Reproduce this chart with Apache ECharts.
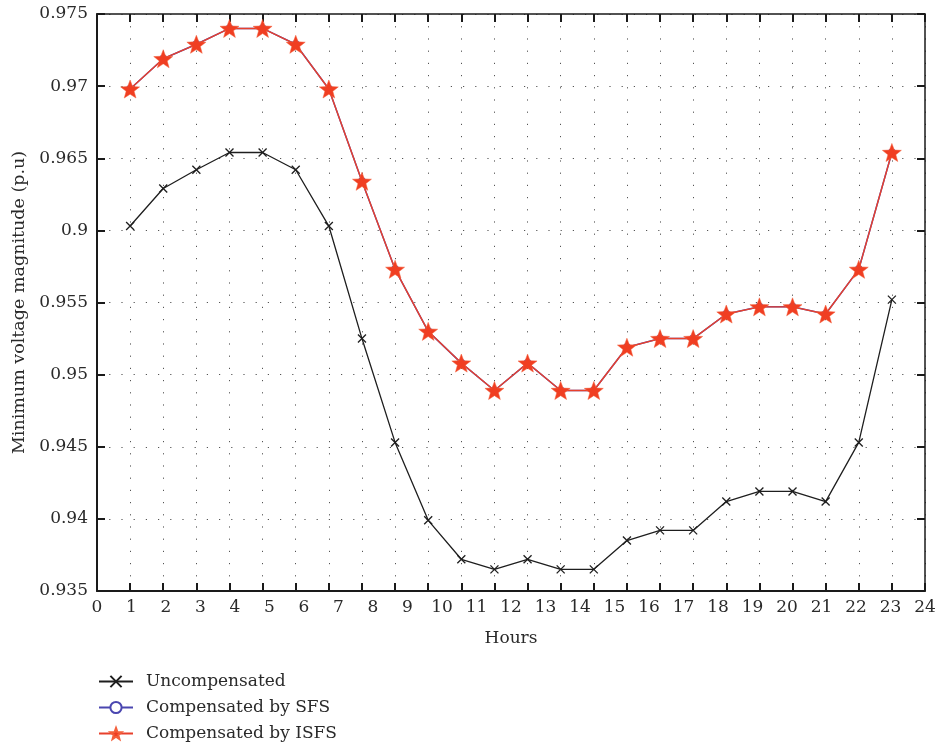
<!DOCTYPE html>
<html>
<head>
<meta charset="utf-8">
<script src="https://cdn.jsdelivr.net/npm/echarts@6/dist/echarts.min.js"></script>
<style>
html,body{margin:0;padding:0;background:#fff;}
#chart{width:936px;height:748px;}
</style>
</head>
<body>
<div id="chart"></div>
<script>
// ---- data ----
var hours = [1,2,3,4,5,6,7,8,9,10,11,12,13,14,15,16,17,18,19,20,21,22,23,24];
var uncompensated = [0.9603,0.9629,0.9642,0.9654,0.9654,0.9642,0.9603,0.9525,0.9453,0.9399,0.9372,0.9365,0.9372,0.9365,0.9365,0.9385,0.9392,0.9392,0.9412,0.9419,0.9419,0.9412,0.9453,0.9552];
var compensatedSFS = [0.9698,0.9719,0.9729,0.9740,0.9740,0.9729,0.9698,0.9634,0.9573,0.9530,0.9508,0.9489,0.9508,0.9489,0.9489,0.9519,0.9525,0.9525,0.9542,0.9547,0.9547,0.9542,0.9573,0.9654];
var compensatedISFS = [0.9698,0.9719,0.9729,0.9740,0.9740,0.9729,0.9698,0.9634,0.9573,0.9530,0.9508,0.9489,0.9508,0.9489,0.9489,0.9519,0.9525,0.9525,0.9542,0.9547,0.9547,0.9542,0.9573,0.9654];
var yTickLabels = ['0.935','0.94','0.945','0.95','0.955','0.9','0.965','0.97','0.975'];
var xTickLabels = ['0','1','2','3','4','5','6','7','8','9','10','11','12','13','14','15','16','17','18','19','20','21','22','23','24'];
var seriesNames = ['Uncompensated','Compensated by SFS','Compensated by ISFS'];

function pairs(vals){ return hours.map(function(h,i){ return [h, vals[i]]; }); }

var FONT = 'DejaVu Serif';
var TXT = '#2a2a2a';
var starPath = 'path://M10,0 L12.47,6.6 L19.51,6.91 L13.99,11.3 L15.88,18.09 L10,14.2 L4.12,18.09 L6.01,11.3 L0.49,6.91 L7.53,6.6 Z';
var crossPath = 'path://M0,0L10,10M10,0L0,10';

var gridLine = {show:true, lineStyle:{color:'#555', width:1, type:[1.2,11]}};
var axisLine = {show:true, onZero:false, lineStyle:{color:'#1a1a1a', width:2}};
var tickIn = {show:true, inside:true, length:8, lineStyle:{color:'#1a1a1a', width:2}};

var chart = echarts.init(document.getElementById('chart'), null, {renderer:'canvas'});
chart.setOption({
  animation:false,
  backgroundColor:'#fff',
  grid:{left:97, right:11, top:14, bottom:157, containLabel:false, outerBoundsMode:'none'},
  legend:{
    orient:'vertical', left:98, top:673, padding:0,
    itemWidth:34, itemHeight:14, itemGap:9,
    textStyle:{fontFamily:FONT, fontSize:17, color:TXT, padding:[0,0,0,8]},
    data:seriesNames
  },
  xAxis:[
    {type:'value', position:'bottom', offset:0, min:0, max:25, interval:1,
     axisLine:axisLine, axisTick:tickIn, axisLabel:{show:false}, splitLine:gridLine},
    {type:'value', position:'top', offset:0, min:0, max:25, interval:1,
     axisLine:{show:true, onZero:false, lineStyle:{color:'#1a1a1a', width:1.5}}, axisTick:tickIn, axisLabel:{show:false}, splitLine:{show:false}},
    {type:'value', position:'bottom', offset:0, min:0, max:24, interval:1,
     axisLine:{show:false}, axisTick:{show:false}, splitLine:{show:false},
     axisLabel:{show:true, margin:8, fontFamily:FONT, fontSize:17, color:TXT,
       formatter:function(v, i){ return xTickLabels[i]; }},
     name:'Hours', nameLocation:'middle', nameGap:39,
     nameTextStyle:{fontFamily:FONT, fontSize:17, color:TXT}}
  ],
  yAxis:[
    {type:'value', position:'left', min:0.935, max:0.975, interval:0.005,
     axisLine:axisLine, axisTick:tickIn, splitLine:gridLine,
     axisLabel:{show:true, margin:9, fontFamily:FONT, fontSize:17, color:TXT,
       formatter:function(v, i){ return yTickLabels[i]; }},
     name:'Minimum voltage magnitude (p.u)', nameLocation:'middle', nameGap:67,
     nameTextStyle:{fontFamily:FONT, fontSize:17.5, color:TXT}},
    {type:'value', position:'right', min:0.935, max:0.975, interval:0.005,
     axisLine:{show:true, onZero:false, lineStyle:{color:'#1a1a1a', width:1.5}}, axisTick:tickIn, axisLabel:{show:false}, splitLine:{show:false}}
  ],
  series:[
    {name:seriesNames[0], type:'line', xAxisIndex:0, yAxisIndex:0, data:pairs(uncompensated),
     symbol:crossPath, symbolSize:8,
     lineStyle:{color:'#1e1e1e', width:1.3},
     itemStyle:{color:'#1e1e1e', borderColor:'#1e1e1e', borderWidth:1.3}, z:3},
    {name:seriesNames[1], type:'line', xAxisIndex:0, yAxisIndex:0, data:pairs(compensatedSFS),
     symbol:'emptyCircle', symbolSize:6,
     lineStyle:{color:'#4a46b0', width:1.5},
     itemStyle:{color:'#4a46b0', borderColor:'#4a46b0', borderWidth:1.3}, z:4},
    {name:seriesNames[2], type:'line', xAxisIndex:0, yAxisIndex:0, data:pairs(compensatedISFS),
     symbol:starPath, symbolSize:19, symbolKeepAspect:true,
     lineStyle:{color:'#e8402c', width:1.4},
     itemStyle:{color:'#f03e22', borderColor:'#f4603c', borderWidth:0.5}, z:5}
  ]
});
</script>
</body>
</html>
